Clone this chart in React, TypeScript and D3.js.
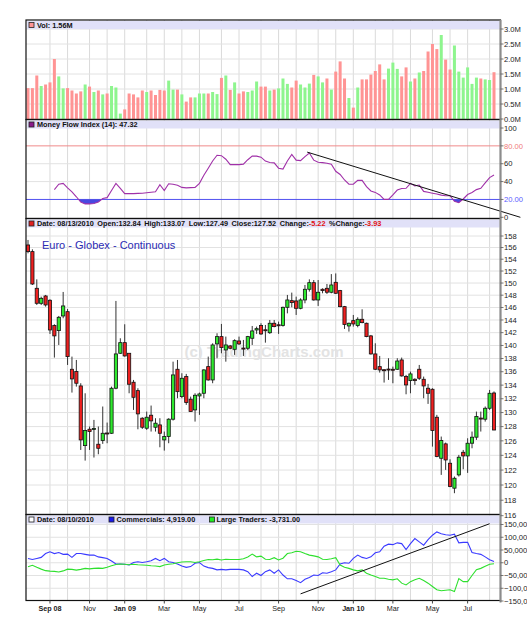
import React from 'react';
import * as d3 from 'd3';

// weekly bars, Fri 08/01/2008 .. Fri 08/13/2010
const dates = d3.timeFriday.range(new Date(2008, 7, 1), new Date(2010, 7, 14));

// volume in millions and whether the bar is drawn as an up week
const volume = [
  1.03, 1.03, 1.45, 1.1, 1.15, 1.22, 2.0, 1.42, 1.02, 1.03,
  0.95, 0.85, 0.92, 1.15, 1.08, 0.9, 0.95, 0.82, 0.85, 1.1,
  1.05, 0.18, 0.32, 0.85, 0.82, 0.72, 0.95, 0.9, 0.95, 0.8,
  0.97, 0.95, 1.28, 0.98, 0.98, 0.82, 0.58, 0.72, 0.72, 0.85,
  0.85, 0.85, 0.9, 0.83, 1.37, 1.45, 0.97, 1.22, 0.85, 0.92,
  0.9, 0.95, 1.25, 1.08, 1.08, 0.95, 0.98, 1.02, 1.35, 1.17,
  1.05, 1.28, 1.15, 1.05, 1.18, 1.47, 1.42, 1.22, 1.35, 0.98,
  1.58, 1.92, 1.35, 0.7, 0.38, 1.05, 1.32, 1.32, 1.48, 1.6,
  1.82, 1.32, 1.68, 1.88, 1.67, 1.42, 1.72, 1.25, 1.35, 1.55,
  1.6, 2.25, 2.5, 2.33, 2.8, 1.98, 1.65, 2.45, 1.58, 1.38,
  1.72, 1.17, 1.38, 1.35, 1.32, 1.3, 1.56,
];
const volUp = 'RRRGRRRGGRRRRGRGRGRGGGRRRRRGRRRRGGRGRRGGGRGGRGRGRRGGGRRGRGGGRRGGGRGGRGRRRGRGRRRRRRGGGRRGRGRRRRGRRGGGGGGRGGR';

const opens = [
  156.44, 155.3, 149.13, 146.68, 147.87, 147.17, 143.11, 142.32, 144.64, 145.33,
  136.37, 136.02, 133.88, 125.34, 127.63, 127.7, 125.53, 126.04, 127.1, 127.06,
  133.54, 138.8, 140.44, 138.8, 134.43, 133.19, 129.19, 127.77, 129.62, 127.91,
  128.24, 126.13, 126.6, 129.05, 136.37, 132.31, 135.27, 131.93, 130.38, 132.41,
  132.8, 136.77, 134.77, 140.24, 141.38, 139.31, 139.93, 139.41, 140.7, 139.6,
  139.57, 141.12, 142.42, 143.11, 142.45, 141.99, 143.48, 143.24, 143.11, 146.03,
  147.11, 147.06, 145.87, 147.22, 148.97, 150.06, 147.22, 148.97, 149.13, 148.48,
  150.12, 148.75, 146.14, 143.05, 143.9, 143.11, 144.11, 143.48, 141.49, 138.7,
  136.77, 136.3, 136.4, 136.37, 136.37, 137.78, 135.27, 134.67, 134.87, 136.37,
  134.87, 133.54, 133.39, 129.33, 123.6, 125.58, 122.92, 119.58, 121.35, 124.42,
  123.92, 125.67, 126.51, 129.21, 129.05, 130.62, 132.84,
];
const highs = [
  157.31, 155.69, 150.61, 147.76, 148.04, 147.33, 143.32, 144.64, 148.53, 145.76,
  138.29, 137.78, 134.28, 132.8, 128.01, 128.95, 128.01, 130.87, 128.57, 133.78,
  147.06, 141.12, 143.32, 138.8, 134.77, 133.54, 129.33, 130.14, 131.01, 129.19,
  129.19, 127.3, 129.19, 137.52, 137.78, 135.77, 135.67, 132.31, 132.8, 132.9,
  136.37, 138.29, 140.34, 141.9, 143.37, 141.38, 140.08, 140.96, 141.38, 140.86,
  141.49, 143.05, 142.95, 143.48, 143.21, 144.0, 144.0, 143.74, 146.14, 148.04,
  148.42, 147.76, 147.49, 149.68, 150.61, 150.5, 150.5, 149.13, 149.84, 151.49,
  151.6, 148.86, 146.25, 143.58, 144.8, 144.43, 145.71, 143.58, 141.64, 140.34,
  138.39, 136.37, 138.04, 136.77, 138.04, 138.14, 135.52, 136.02, 135.02, 137.02,
  135.27, 134.18, 133.54, 129.67, 126.6, 125.76, 123.46, 121.13, 124.06, 124.74,
  126.36, 127.3, 130.14, 130.14, 130.87, 133.29, 133.07,
];
const lows = [
  155.01, 149.68, 146.41, 146.41, 146.14, 141.8, 138.14, 140.08, 144.27, 137.02,
  132.9, 133.78, 124.74, 123.28, 124.74, 123.7, 124.15, 125.58, 125.67, 126.97,
  133.39, 138.7, 138.29, 132.8, 130.38, 127.62, 127.67, 127.53, 127.3, 127.3,
  125.11, 124.65, 125.67, 128.86, 132.07, 132.07, 131.11, 130.14, 128.71, 129.67,
  132.07, 134.67, 134.28, 138.04, 138.8, 137.52, 139.41, 138.55, 140.08, 138.39,
  139.31, 140.08, 141.8, 141.64, 140.44, 141.8, 142.84, 141.8, 142.95, 145.06,
  146.03, 144.8, 145.71, 146.68, 148.59, 147.11, 146.25, 148.31, 148.2, 148.31,
  148.2, 146.03, 142.58, 142.16, 142.95, 142.84, 143.48, 141.28, 138.6, 136.27,
  135.87, 134.38, 134.77, 134.28, 136.27, 135.27, 132.65, 132.8, 134.03, 134.77,
  132.07, 131.25, 125.2, 123.74, 121.35, 122.02, 119.71, 118.92, 121.13, 122.11,
  121.62, 124.97, 126.13, 127.3, 128.71, 130.38, 127.49,
];
const closes = [
  155.3, 149.84, 146.68, 147.49, 146.41, 142.42, 141.49, 144.43, 146.25, 138.29,
  134.92, 134.28, 126.13, 127.44, 127.3, 127.74, 124.97, 127.06, 127.02, 133.54,
  138.7, 140.44, 138.39, 134.13, 132.21, 129.81, 127.91, 129.33, 128.81, 128.48,
  127.06, 126.6, 129.05, 135.52, 133.04, 135.02, 131.44, 130.14, 132.51, 132.7,
  136.27, 134.77, 140.08, 141.38, 139.67, 140.08, 139.57, 140.75, 140.24, 139.55,
  141.38, 142.27, 142.63, 141.8, 142.4, 143.48, 142.95, 143.21, 146.03, 147.22,
  146.79, 145.87, 147.22, 148.97, 150.06, 147.22, 148.48, 148.75, 148.48, 149.68,
  148.31, 146.14, 143.27, 143.48, 143.37, 144.11, 143.58, 141.38, 138.7, 136.37,
  136.27, 136.25, 136.35, 136.35, 137.62, 135.37, 134.03, 135.67, 134.67, 135.02,
  133.88, 132.8, 127.44, 123.83, 126.04, 123.37, 119.8, 120.9, 123.74, 123.92,
  125.67, 126.51, 129.43, 129.17, 130.62, 132.8, 127.52,
];

// Money Flow Index (14), first value on bar 6
const mfiStart = 6;
const mfi = [
  31, 37, 38, 33, 28.5, 23, 17, 15, 15, 15.5,
  17, 21, 22, 30, 38, 32.5, 26.5, 26.5, 26.5, 26.8,
  27, 27.5, 28, 28.5, 36.5, 30, 37.5, 37, 36, 33.5,
  33, 33.2, 33.4, 38, 47, 55, 63, 69.5, 69, 65,
  59, 59, 59, 59.5, 64.5, 68.5, 68.5, 67.3, 63, 61.4,
  61, 55, 54, 63, 70.5, 64, 63.5, 68, 72, 64,
  61.6, 61.2, 60.5, 59.5, 51.5, 48, 41.8, 37, 37, 41.4,
  41.4, 34.3, 29.5, 27.9, 25, 20.1, 20.1, 25, 30.5, 32.3,
  32.5, 38, 35.2, 36.1, 29, 28, 27, 26, 24.8, 24.2,
  24.2, 18, 16.4, 20.5, 25.5, 27.8, 31, 32.5, 38.5, 44.5, 47.32,
];
const mfiTrend = [[63.5, 73], [112, 0]];

// COT net positions, thousands of contracts
const commercials = [
  17, 13, 17, 21, 36, 43, 36, 40, 33, 34,
  21, 36, 36, 33, 30, 30, 23, 20, 17, 7,
  -5, -5, -6, -9, 1, 4, 1, 4, 8, 17,
  8, 17, 4, 1, -5, -13, -18, -15, -2, 1,
  -13, -19, -22, -28, -26, -28, -26, -26, -26, -28,
  -35, -54, -41, -50, -35, -28, -41, -28, -48, -63,
  -63, -70, -78, -65, -58, -48, -50, -39, -41, -35,
  -28, -5, 0, -2, 17, 30, 21, 17, 23, 39,
  43, 65, 73, 71, 78, 75, 52, 75, 95, 82,
  69, 91, 108, 121, 114, 110, 108, 112, 78, 80,
  80, 40, 36, 33, 23, 12, 4.919,
];
const largeTraders = [
  -16, -10, -18, -25, -31, -33, -34, -36, -32, -25,
  -26, -29, -26, -22, -24, -22, -21, -22, -18, -12,
  -7, -5, -6, -8, -6, -8, -9, -10, -12, -13,
  -15, -9, -6, -4, 0, 3, 4, 4, 1, 4,
  9, 13, 12, 14, 11, 14, 13, 13, 13, 16,
  23, 34, 23, 26, 14, 13, 20, 11, 18, 36,
  39, 45, 43, 36, 30, 27, 23, 14, 13, 16,
  20, -9, -18, -22, -28, -32, -28, -41, -48, -54,
  -61, -61, -65, -67, -63, -80, -87, -74, -67, -61,
  -70, -80, -93, -106, -110, -108, -106, -113, -62, -74,
  -74, -50, -27, -22, -14, -6, -3.731,
];
const cotTrend = [[62, -122], [105, 153]];

const priceTicks = d3.range(116, 159, 2);
const volTicks = [0, 0.5, 1, 1.5, 2, 2.5, 3];
const mfiTicks = [0, 20, 40, 60, 80, 100];
const cotTicks = [-150, -100, -50, 0, 50, 100, 150];

const title = 'Euro - Globex - Continuous';
const volLabel = 'Vol: 1.56M';
const mfiLabel = 'Money Flow Index (14): 47.32';
const mainLabel = [
  ['Date: 08/13/2010'], ['Open:132.84'], ['High:133.07'], ['Low:127.49'],
  ['Close:127.52'], ['Change:', '-5.22'], ['%Change:', '-3.93'],
];
const cotDate = 'Date: 08/10/2010';
const comLabel = 'Commercials: 4,919.00';
const ltLabel = 'Large Traders: -3,731.00';

const FONT = '"Liberation Sans", Arial, sans-serif';
const LEFT = 26;
const RIGHT = 500.5;
const panels = {
  vol: [20, 119.5],
  mfi: [119.5, 218.5],
  main: [218.5, 514.5],
  cot: [514.5, 600.5],
};

const x = d3.scaleLinear().domain([0, dates.length - 1]).range([28, 494]);
const yVol = d3.scaleLinear().domain([0, 3]).range([119, 29]);
const yMfi = d3.scaleLinear().domain([0, 100]).range([217.3, 128]);
const yPx = d3.scaleLog().domain([116, 158]).range([515.7, 236]);
const yCot = d3.scaleLinear().domain([-150, 150]).range([601, 524.5]);

function oversold(pts: number[][]) {
  const out: number[][][] = [];
  let cur: number[][] | null = null;
  pts.forEach((p, k) => {
    const [i, v] = p;
    if (v < 20) {
      if (!cur) {
        cur = [];
        if (k > 0) {
          const [i0, v0] = pts[k - 1];
          const t = (v0 - 20) / (v0 - v);
          cur.push([i0 + t * (i - i0), 20]);
        }
      }
      cur.push([i, v]);
    } else if (cur) {
      const [i0, v0] = pts[k - 1];
      const t = (20 - v0) / (v - v0);
      cur.push([i0 + t * (i - i0), 20]);
      out.push(cur);
      cur = null;
    }
  });
  if (cur) out.push(cur);
  return out;
}

const Header = ({ top }: { top: number }) => (
  <rect x={LEFT + 1} y={top + 1} width={RIGHT - LEFT - 2} height={8} fill="#e1e1f8" />
);

const Icon = ({ xp, top, fill }: { xp: number; top: number; fill: string }) => (
  <rect x={xp} y={top + 2.5} width={5} height={5} fill={fill} stroke="#222" strokeWidth={0.8} />
);

const App = () => {
  const monthStarts = d3.range(1, dates.length).filter(
    (i) => dates[i].getMonth() !== dates[i - 1].getMonth()
  );
  const labelled = monthStarts.filter((i) => dates[i].getMonth() % 2 === 0);

  const mfiPts = mfi.map((v, k) => [mfiStart + k, v]);
  const mfiLine = d3.line<number[]>().x((d) => x(d[0])).y((d) => yMfi(d[1]));
  const cotLine = d3.line<number>().x((_, i) => x(i)).y((d) => yCot(d));

  const vGrid = (top: number, bottom: number) =>
    monthStarts.map((i) => (
      <line key={'v' + top + i} x1={x(i)} x2={x(i)} y1={top} y2={bottom} stroke="#dadada" strokeWidth={1} />
    ));

  const axisText = (y: number, label: string, key: string, fill = '#222') => (
    <g key={key}>
      <line x1={RIGHT} x2={RIGHT + 3} y1={y} y2={y} stroke="#555" strokeWidth={0.8} />
      <text x={RIGHT + 3.5} y={y + 2.7} fontSize={7.6} fill={fill}>{label}</text>
    </g>
  );

  const headerText = { fontSize: 7.3, fontWeight: 'bold' as const, fill: '#111' };

  return (
    <svg width={527} height={625} style={{ position: 'absolute', left: 0, top: 0, background: '#fff' }} fontFamily={FONT}>
      <defs>
        <clipPath id="clipMain"><rect x={LEFT} y={panels.main[0]} width={RIGHT - LEFT} height={panels.main[1] - panels.main[0]} /></clipPath>
        <clipPath id="clipCot"><rect x={LEFT} y={panels.cot[0]} width={RIGHT - LEFT} height={panels.cot[1] - panels.cot[0]} /></clipPath>
      </defs>

      {/* grids */}
      {vGrid(panels.vol[0], panels.vol[1])}
      {vGrid(panels.mfi[0], panels.mfi[1])}
      {vGrid(panels.main[0], panels.main[1])}
      {vGrid(panels.cot[0], panels.cot[1])}
      {volTicks.map((t) => (
        <line key={'hv' + t} x1={LEFT} x2={RIGHT} y1={yVol(t)} y2={yVol(t)} stroke="#e2e2e2" />
      ))}
      {[40, 60].map((t) => (
        <line key={'hm' + t} x1={LEFT} x2={RIGHT} y1={yMfi(t)} y2={yMfi(t)} stroke="#e2e2e2" />
      ))}
      {priceTicks.filter((t) => yPx(t) < panels.main[1] && yPx(t) > panels.main[0] + 9).map((t) => (
        <line key={'hp' + t} x1={LEFT} x2={RIGHT} y1={yPx(t)} y2={yPx(t)} stroke="#e2e2e2" />
      ))}
      {cotTicks.filter((t) => yCot(t) < panels.cot[1] - 1).map((t) => (
        <line key={'hc' + t} x1={LEFT} x2={RIGHT} y1={yCot(t)} y2={yCot(t)} stroke="#e2e2e2" />
      ))}

      {/* header bands */}
      <Header top={panels.vol[0]} />
      <Header top={panels.mfi[0]} />
      <Header top={panels.main[0]} />
      <Header top={panels.cot[0]} />

      {/* volume */}
      {volume.map((v, i) => (
        <rect key={'vb' + i} x={x(i) - 1.5} y={yVol(v)} width={3} height={yVol(0) - yVol(v)}
          fill={volUp[i] === 'G' ? '#8ef58e' : '#ff9494'} />
      ))}

      {/* money flow */}
      <line x1={LEFT} x2={RIGHT} y1={yMfi(80)} y2={yMfi(80)} stroke="#f08a8a" strokeWidth={1} />
      <line x1={LEFT} x2={RIGHT} y1={yMfi(20)} y2={yMfi(20)} stroke="#5050f0" strokeWidth={1} />
      {oversold(mfiPts).map((seg, k) => (
        <path key={'os' + k} d={(mfiLine(seg) || '') + 'Z'} fill="#4848e0" />
      ))}
      <path d={mfiLine(mfiPts) || ''} fill="none" stroke="#a030a8" strokeWidth={1.1} />
      <path d={mfiLine(mfiTrend) || ''} fill="none" stroke="#111" strokeWidth={1} />

      {/* price */}
      <text x={264} y={357} textAnchor="middle" fontSize={15} fontWeight="bold" fill="#e3e3e3">(c) TradingCharts.com</text>
      <text x={42} y={248.5} fontSize={11} fill="#2b2bb3">{title}</text>
      <g clipPath="url(#clipMain)">
        {closes.map((c, i) => {
          const o = opens[i];
          const up = c >= o;
          const top = yPx(Math.max(o, c));
          const h = Math.max(1, yPx(Math.min(o, c)) - top);
          return (
            <g key={'c' + i}>
              <line x1={x(i)} x2={x(i)} y1={yPx(highs[i])} y2={yPx(lows[i])} stroke="#333" strokeWidth={1} />
              <rect x={x(i) - 1.6} y={top} width={3.2} height={h} fill={up ? '#2ee82e' : '#ee2020'} stroke="#111" strokeWidth={0.8} />
            </g>
          );
        })}
      </g>

      {/* COT */}
      <g clipPath="url(#clipCot)">
        <path d={cotLine(commercials) || ''} fill="none" stroke="#3a3aff" strokeWidth={1.1} />
        <path d={cotLine(largeTraders) || ''} fill="none" stroke="#2ee02e" strokeWidth={1.1} />
        <path d={mfiLine.y((d) => yCot(d[1]))(cotTrend) || ''} fill="none" stroke="#111" strokeWidth={1} />
      </g>

      {/* headers text */}
      <Icon xp={29} top={panels.vol[0]} fill="#ff9494" />
      <text x={37} y={panels.vol[0] + 7.8} {...headerText}>{volLabel}</text>
      <Icon xp={29} top={panels.mfi[0]} fill="#8a1a8a" />
      <text x={37} y={panels.mfi[0] + 7.8} {...headerText}>{mfiLabel}</text>
      <Icon xp={29} top={panels.main[0]} fill="#e02020" />
      <text x={37} y={panels.main[0] + 7.8} {...headerText}>
        {mainLabel.map((seg, k) => (
          <React.Fragment key={'ml' + k}>
            <tspan dx={k === 0 ? 0 : 3.5}>{seg[0]}</tspan>
            {seg[1] && <tspan fill="#e01010">{seg[1]}</tspan>}
          </React.Fragment>
        ))}
      </text>
      <Icon xp={29} top={panels.cot[0]} fill="#fff" />
      <text x={37} y={panels.cot[0] + 7.8} {...headerText}>{cotDate}</text>
      <Icon xp={109} top={panels.cot[0]} fill="#1a1aee" />
      <text x={116.5} y={panels.cot[0] + 7.8} {...headerText}>{comLabel}</text>
      <Icon xp={209.5} top={panels.cot[0]} fill="#22ee22" />
      <text x={216.5} y={panels.cot[0] + 7.8} {...headerText}>{ltLabel}</text>

      {/* panel borders */}
      {Object.values(panels).map(([t, b], k) => (
        <rect key={'pb' + k} x={LEFT} y={t} width={RIGHT - LEFT} height={b - t} fill="none" stroke="#111" strokeWidth={1.2} />
      ))}
      <line x1={RIGHT} x2={RIGHT} y1={panels.vol[0]} y2={panels.cot[1] + 2} stroke="#8c8c8c" strokeWidth={2} />

      {/* right axes */}
      {volTicks.map((t) => axisText(yVol(t), d3.format('.1f')(t) + 'M', 'av' + t))}
      {mfiTicks.map((t) =>
        axisText(yMfi(t), t === 80 || t === 20 ? t.toFixed(2) : String(t), 'am' + t,
          t === 80 ? '#f07a7a' : t === 20 ? '#5a5aff' : '#222'))}
      {priceTicks.map((t) => axisText(yPx(t), String(t), 'ap' + t))}
      {cotTicks.map((t) => axisText(yCot(t), d3.format(',')(t * 1000), 'ac' + t))}

      {/* time axis */}
      {labelled.map((i) => {
        const m = dates[i].getMonth();
        const withYear = m === 0 || i === labelled[0];
        return (
          <g key={'xl' + i}>
            <line x1={x(i)} x2={x(i)} y1={panels.cot[1]} y2={panels.cot[1] + 3} stroke="#444" />
            <text x={x(i)} y={610.5} textAnchor="middle" fontSize={7.2}
              fontWeight={withYear ? 'bold' : 'normal'} fill="#222">
              {d3.timeFormat(withYear ? '%b %y' : '%b')(dates[i])}
            </text>
          </g>
        );
      })}
    </svg>
  );
};

export default App;
